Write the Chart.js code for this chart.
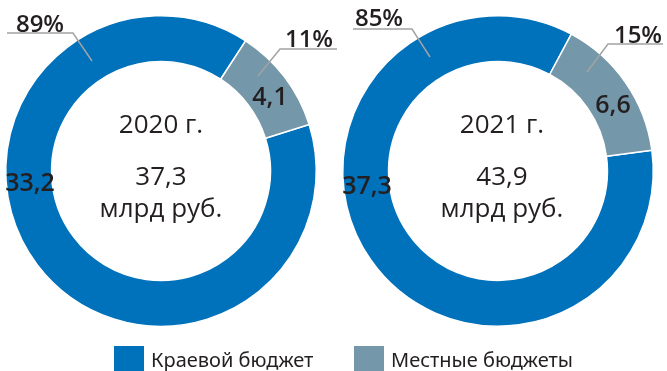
<!DOCTYPE html>
<html>
<head>
<meta charset="utf-8">
<script src="https://cdn.jsdelivr.net/npm/chart.js@4/dist/chart.umd.min.js"></script>
<style>
  body { margin: 0; background: #fff; }
  #wrap { position: relative; width: 667px; height: 371px; overflow: hidden; font-family: "Open Sans", sans-serif; color: #231f20; }
  canvas { position: absolute; top: 0; }
  .sw { position: absolute; top: 346px; width: 30px; height: 30px; }
  .lt { position: absolute; top: 345px; font-family: "Noto Sans", sans-serif; font-size: 20px; line-height: 30px; white-space: nowrap; }
</style>
</head>
<body>
<div id="wrap">
  <canvas id="c2020" width="345" height="371" style="left:0"></canvas>
  <canvas id="c2021" width="345" height="371" style="left:322px"></canvas>
  <div class="sw" style="left:114px;background:#0071bb"></div>
  <div class="lt" id="lg0" style="left:151px"></div>
  <div class="sw" style="left:354px;background:#7597aa"></div>
  <div class="lt" id="lg1" style="left:391px"></div>
</div>
<script>
const years = ['2020 г.', '2021 г.'];
const categories = ['Краевой бюджет', 'Местные бюджеты'];
const regional = [33.2, 37.3];
const local = [4.1, 6.6];
const totals = [37.3, 43.9];
const unit = 'млрд руб.';

const colors = ['#0071bb', '#7597aa'];
const ink = '#231f20';
const leaderColor = '#a3a3a3';
const font = '"Open Sans", sans-serif';

const fmt = v => v.toFixed(1).replace('.', ',');

document.getElementById('lg0').textContent = categories[0];
document.getElementById('lg1').textContent = categories[1];

// label placement relative to the ring centre, per chart
const layouts = [
  {
    rotation: 72.6,
    padding: { left: 5, right: 28, top: 15, bottom: 44 },
    centerDx: 0,
    values: [[-131, 13], [109, -73]],
    pcts: [[-121, -139], [148, -124]],
    leaders: [
      [[-154, -138], [-88, -138], [-69, -110]],
      [[176, -122], [119, -122], [97, -95]]
    ]
  },
  {
    rotation: 82.3,
    padding: { left: 20, right: 13, top: 15, bottom: 44 },
    centerDx: 4,
    values: [[-131, 16], [115, -65]],
    pcts: [[-119, -145], [140, -128]],
    leaders: [
      [[-145, -142], [-86, -142], [-68, -114]],
      [[165, -127], [110, -127], [89, -99]]
    ]
  }
];

const ringLabels = {
  id: 'ringLabels',
  afterDraw(chart, args, opts) {
    const i = opts.index;
    const L = layouts[i];
    const arc = chart.getDatasetMeta(0).data[0];
    const cx = arc.x, cy = arc.y;
    const ctx = chart.ctx;
    const vals = chart.data.datasets[0].data;
    const total = totals[i];
    ctx.save();
    ctx.fillStyle = ink;
    ctx.textAlign = 'center';
    ctx.textBaseline = 'alphabetic';

    // centre caption
    ctx.font = '26px ' + font;
    ctx.fillText(years[i], cx + L.centerDx, cy - 38);
    ctx.fillText(fmt(total), cx + L.centerDx, cy + 14);
    ctx.fillText(unit, cx + L.centerDx, cy + 46);

    // slice values
    ctx.font = '600 25px ' + font;
    ctx.textBaseline = 'middle';
    vals.forEach((v, k) => {
      const [dx, dy] = L.values[k];
      ctx.fillText(fmt(v), cx + dx, cy + dy);
    });

    // leader lines
    ctx.strokeStyle = leaderColor;
    ctx.lineWidth = 1.5;
    L.leaders.forEach(pts => {
      ctx.beginPath();
      pts.forEach(([dx, dy], j) => j ? ctx.lineTo(cx + dx, cy + dy) : ctx.moveTo(cx + dx, cy + dy));
      ctx.stroke();
    });

    // shares in percent
    ctx.textBaseline = 'alphabetic';
    ctx.font = '600 24px ' + font;
    vals.forEach((v, k) => {
      const [dx, dy] = L.pcts[k];
      ctx.fillText(Math.round(v / total * 100) + '%', cx + dx, cy + dy);
    });
    ctx.restore();
  }
};

years.forEach((y, i) => {
  new Chart(document.getElementById(i ? 'c2021' : 'c2020'), {
    type: 'doughnut',
    data: {
      labels: categories,
      datasets: [{
        data: [regional[i], local[i]],
        backgroundColor: colors,
        borderColor: '#fff',
        borderWidth: 1.5
      }]
    },
    options: {
      responsive: false,
      animation: false,
      devicePixelRatio: 1,
      cutout: '70.5%',
      rotation: layouts[i].rotation,
      layout: { padding: layouts[i].padding },
      plugins: {
        legend: { display: false },
        tooltip: { enabled: false },
        ringLabels: { index: i }
      }
    },
    plugins: [ringLabels]
  });
});
</script>
</body>
</html>
